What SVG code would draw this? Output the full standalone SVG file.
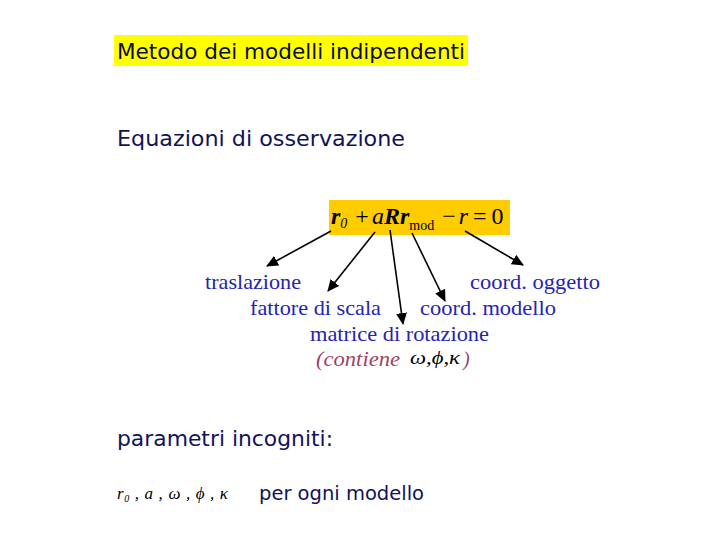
<svg xmlns="http://www.w3.org/2000/svg" width="720" height="540" viewBox="0 0 720 540">
<defs>
<marker id="ah" markerWidth="12" markerHeight="12" refX="11" refY="6" orient="auto" markerUnits="userSpaceOnUse">
<path d="M0,0.5 L12,6 L0,11.5 Z" fill="#000"/>
</marker>
<style>
.h{font-family:"DejaVu Sans","Liberation Sans",sans-serif;font-size:22px;fill:#12125a}
.lab{font-family:"Liberation Serif",serif;font-size:21px;fill:#2424b4}
.m{font-family:"Liberation Serif",serif;fill:#000}
.c line{stroke:#000;stroke-width:1.6;marker-end:url(#ah)}
</style>
</defs>
<rect width="720" height="540" fill="#fff"/>
<g id="title">
<rect x="114" y="35" width="354" height="31" fill="#ffff00"/>
<text class="h" x="117" y="59" textLength="348" lengthAdjust="spacingAndGlyphs" style="fill:#0c0c3c">Metodo dei modelli indipendenti</text>
</g>
<g id="heading1">
<text class="h" x="117" y="146" textLength="288" lengthAdjust="spacingAndGlyphs">Equazioni di osservazione</text>
</g>
<g id="formula">
<rect x="329" y="200" width="181" height="35" fill="#ffcc00"/>
<text class="m" x="331" y="224" font-size="24"><tspan font-weight="bold" font-style="italic">r</tspan><tspan font-style="italic" font-size="14" dy="4">0</tspan><tspan dy="-4" dx="8">+</tspan><tspan dx="3" font-style="italic">a</tspan><tspan font-weight="bold" font-style="italic">Rr</tspan><tspan font-size="14" dy="6">mod</tspan><tspan dy="-6" dx="8">−</tspan><tspan dx="3" font-style="italic">r</tspan><tspan dx="5">=</tspan><tspan dx="5">0</tspan></text>
</g>
<g class="c" id="connectors">
<line x1="331" y1="231" x2="267" y2="266"/>
<line x1="375" y1="232" x2="328" y2="291"/>
<line x1="390" y1="230" x2="403" y2="324"/>
<line x1="412" y1="233" x2="445" y2="301"/>
<line x1="465" y1="231" x2="523" y2="265"/>
</g>
<g id="n-traslazione"><text class="lab" x="205" y="289" textLength="96" lengthAdjust="spacingAndGlyphs">traslazione</text></g>
<g id="n-oggetto"><text class="lab" x="470" y="289" textLength="130" lengthAdjust="spacingAndGlyphs">coord. oggetto</text></g>
<g id="n-scala"><text class="lab" x="250" y="315" textLength="131" lengthAdjust="spacingAndGlyphs">fattore di scala</text></g>
<g id="n-modello"><text class="lab" x="420" y="315" textLength="136" lengthAdjust="spacingAndGlyphs">coord. modello</text></g>
<g id="n-rotazione"><text class="lab" x="310" y="341" textLength="179" lengthAdjust="spacingAndGlyphs">matrice di rotazione</text></g>
<g id="contiene">
<text x="316" y="366" font-family="Liberation Serif,serif" font-style="italic" font-size="20" fill="#9c4468" textLength="84" lengthAdjust="spacingAndGlyphs">(contiene</text>
<text class="m" x="410" y="364" font-size="19" font-style="italic" textLength="50" lengthAdjust="spacingAndGlyphs">ω,ϕ,κ</text>
<text x="463" y="366" font-family="Liberation Serif,serif" font-style="italic" font-size="20" fill="#9c4468">)</text>
</g>
<g id="heading2">
<text class="h" x="117" y="446" textLength="216" lengthAdjust="spacingAndGlyphs">parametri incogniti:</text>
</g>
<g id="params">
<text class="m" x="117" y="499" font-size="17" font-style="italic" textLength="111" lengthAdjust="spacing">r<tspan font-size="10" dy="3">0</tspan><tspan dy="-3"> , a , ω , ϕ , κ</tspan></text>
<text class="h" x="259" y="500" textLength="165" lengthAdjust="spacingAndGlyphs" style="font-size:20px">per ogni modello</text>
</g>
</svg>
